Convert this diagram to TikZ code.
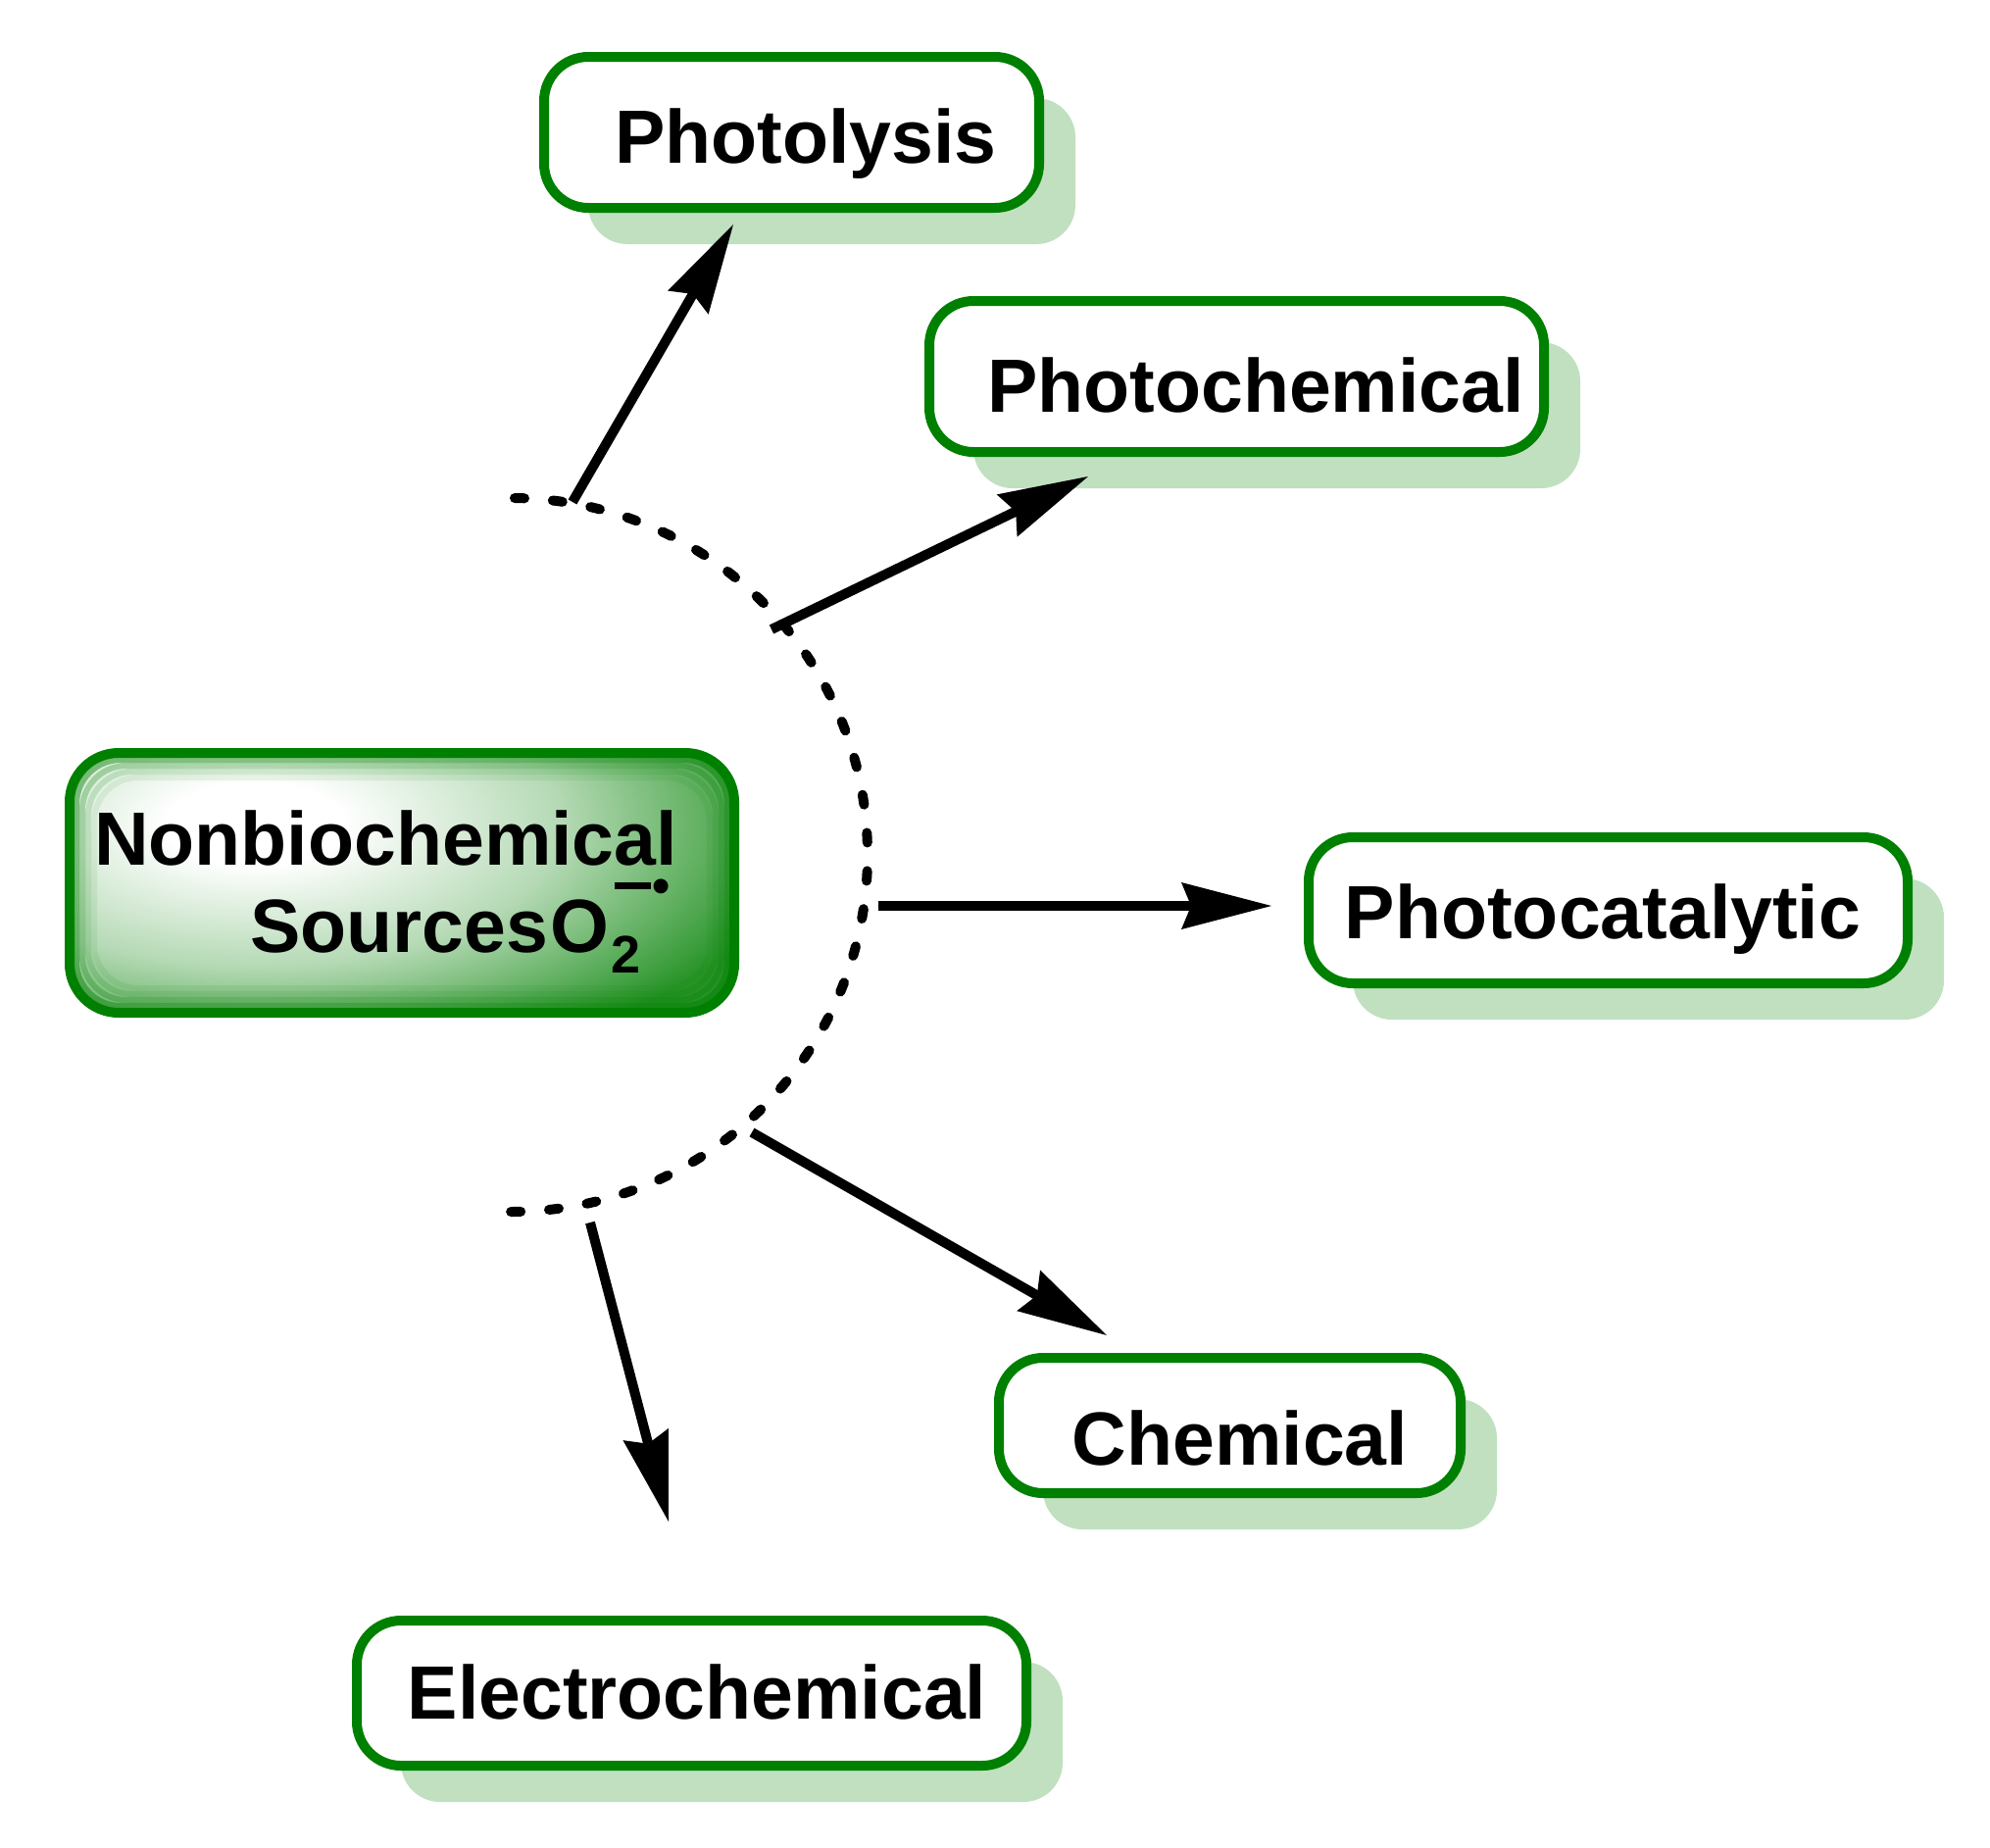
\documentclass[tikz,border=0pt]{standalone}
\usepackage{fontspec}
\setmainfont{Liberation Sans}
\usetikzlibrary{arrows.meta,calc}
\definecolor{ggreen}{RGB}{0,128,0}
\definecolor{shadowc}{RGB}{192,224,192}
\definecolor{glowA}{RGB}{180,217,180}
\definecolor{glowB}{RGB}{38,147,38}
\pgfdeclarelayer{bg}
\pgfsetlayers{bg,main}
\pgfdeclareradialshading{glowshade}{\pgfpointorigin}{color(0bp)=(white); color(4bp)=(white); color(14bp)=(glowA); color(25bp)=(glowB); color(50bp)=(glowB)}
\begin{document}
\begin{tikzpicture}[x=1pt,y=-1pt,
  procbox/.style={draw=ggreen, line width=10pt, fill=white, rounded corners=45pt, inner sep=0pt},
  boxshadow/.style={fill=shadowc, rounded corners=40pt},
  lbl/.style={font=\fontsize{77}{80}\selectfont\bfseries, inner sep=0pt, anchor=base},
  srctxt/.style={font=\fontsize{77}{80}\selectfont\bfseries, inner sep=0pt, anchor=base west},
  conn/.style={line width=10pt, -{Stealth[length=92pt,width=48pt,inset=10pt,line width=0pt]}},
  arcline/.style={line width=10pt, line cap=round, dash pattern=on 10pt off 28.95pt, dash phase=34.95pt},
  srcbox/.style={draw=ggreen, line width=10pt, rounded corners=50pt, fill=glowB, inner sep=0pt,
    path picture={
      \shade[shading=glowshade] ($(path picture bounding box.center)+(-150pt,60pt)$) ellipse [x radius=560pt, y radius=260pt];
      \foreach \d/\o in {7/0.45,13/0.28,19/0.16,25/0.08}
        \draw[ggreen, line width=6pt, opacity=\o, rounded corners=45pt]
          ($(path picture bounding box.north west)+(\d pt,-\d pt)$) rectangle
          ($(path picture bounding box.south east)+(-\d pt,\d pt)$);
    }}
]
\useasboundingbox (0,0) rectangle (2030,1885);

% boxes
\node[procbox, minimum width=505pt, minimum height=154pt] (b1) at (807.5,135) {};
\node[procbox, minimum width=627pt, minimum height=154pt] (b2) at (1261.5,384) {};
\node[procbox, minimum width=611pt, minimum height=149pt] (b3) at (1640.5,928.5) {};
\node[procbox, minimum width=471pt, minimum height=138pt] (b4) at (1254.5,1454) {};
\node[procbox, minimum width=683pt, minimum height=148pt] (b5) at (705.5,1727) {};

\begin{pgfonlayer}{bg}
  \fill[white] (0,0) rectangle (2030,1885);
  \foreach \b in {b1,b2,b3,b4,b5}
    \fill[boxshadow] ($(\b.north west)+(50,47)$) rectangle ($(\b.south east)+(32,32)$);
\end{pgfonlayer}

\node[lbl] (t1) at (822,166) {Photolysis};
\node[lbl] (t2) at (1281,420) {Photochemical};
\node[lbl] (t3) at (1635,957) {Photocatalytic};
\node[lbl] (t4) at (1265,1494) {Chemical};
\node[lbl] (t5) at (711,1753) {Electrochemical};

% central source box
\node[srcbox, minimum width=678pt, minimum height=265pt] (src) at (410,900.5) {};
\node[srctxt] (l1) at (96,882) {Nonbiochemical};
\node[srctxt] (l2) at (255,971) {Sources\kern3pt O\kern2pt\rlap{\raisebox{-21pt}{\fontsize{54}{54}\selectfont 2}}\kern3pt\raisebox{64pt}{\rule{37pt}{7pt}}\kern2pt\raisebox{50pt}{\fontsize{52}{52}\selectfont •}};

% dashed arc
\coordinate (arctop) at (521,508);
\draw[arcline] (arctop) arc[start angle=90, end angle=-90, radius=364pt];

% connectors
\coordinate (a1s) at (584,512);  \coordinate (a1e) at (748,229);
\coordinate (a2s) at (787,642);  \coordinate (a2e) at (1110,486);
\coordinate (a3s) at (896,924);  \coordinate (a3e) at (1297,924);
\coordinate (a4s) at (767,1155); \coordinate (a4e) at (1129,1362);
\coordinate (a5s) at (602,1247); \coordinate (a5e) at (682,1552);
\draw[conn] (a1s) -- (a1e);
\draw[conn] (a2s) -- (a2e);
\draw[conn] (a3s) -- (a3e);
\draw[conn] (a4s) -- (a4e);
\draw[conn] (a5s) -- (a5e);
\end{tikzpicture}
\end{document}
